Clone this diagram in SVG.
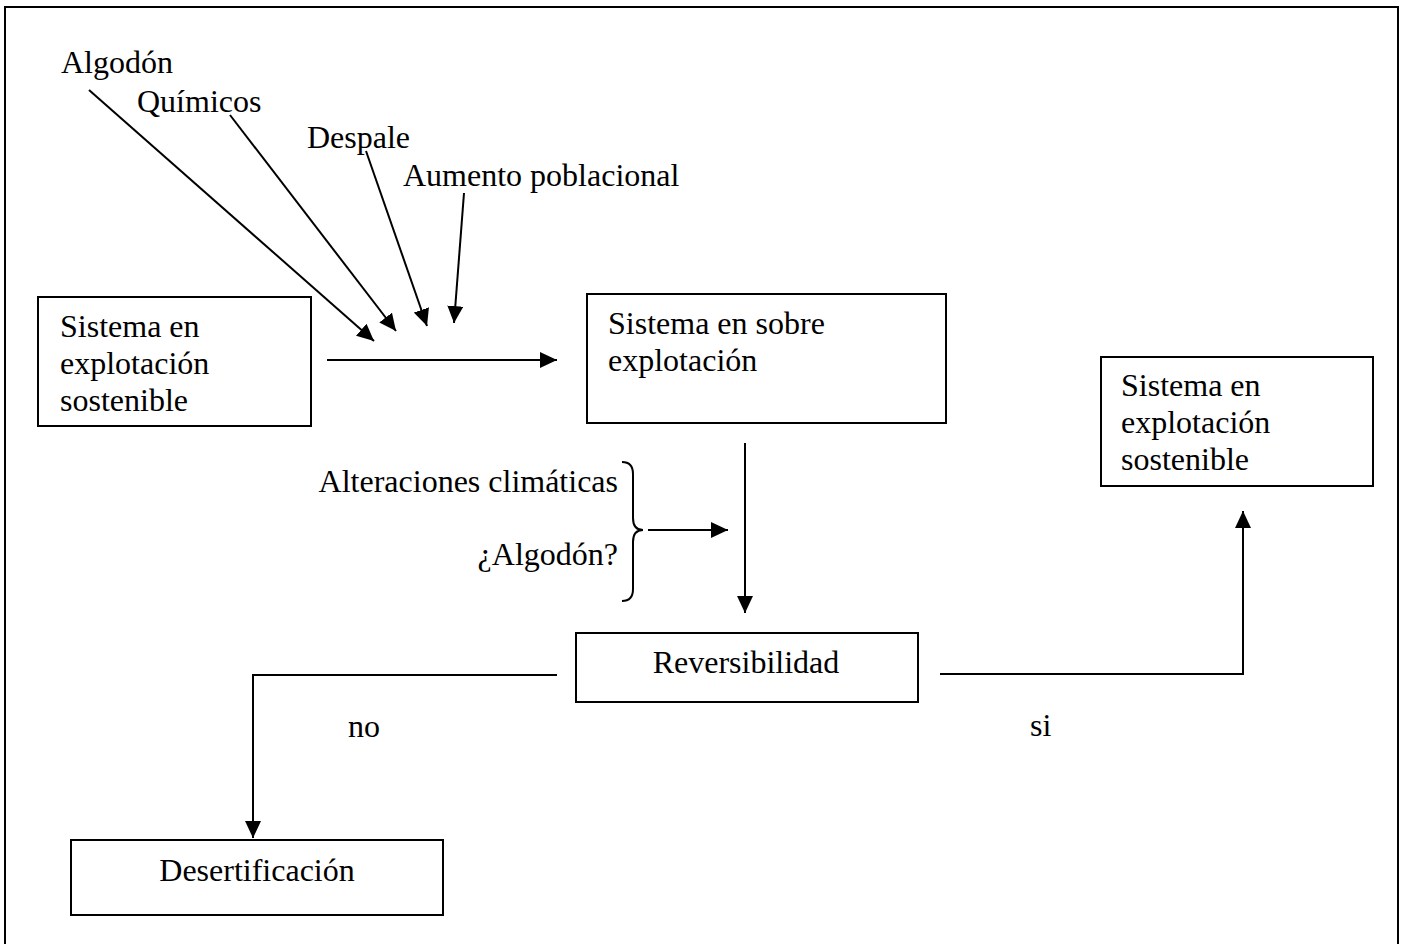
<svg xmlns="http://www.w3.org/2000/svg" width="1405" height="944" viewBox="0 0 1405 944">
<style>
text{font-family:"Liberation Serif","Times New Roman",serif;font-size:32px;fill:#000}
.box{fill:#fff;stroke:#000;stroke-width:2}
.ln{fill:none;stroke:#000;stroke-width:2}
.ar{fill:none;stroke:#000;stroke-width:2;marker-end:url(#ah)}
</style>
<defs>
<marker id="ah" markerUnits="userSpaceOnUse" markerWidth="18" markerHeight="16" viewBox="0 0 18 16" refX="17" refY="8" orient="auto">
<path d="M0,0 L17,8 L0,16 Z" fill="#000"/>
</marker>
</defs>
<rect x="5" y="7" width="1393" height="950" fill="none" stroke="#000" stroke-width="2"/>

<g id="factors">
<text x="61" y="73">Algodón</text>
<text x="137" y="112">Químicos</text>
<text x="307" y="148">Despale</text>
<text x="403" y="186">Aumento poblacional</text>
</g>

<g id="n-sostenible1">
<rect class="box" x="38" y="297" width="273" height="129"/>
<text x="60" y="337">Sistema en</text>
<text x="60" y="374">explotación</text>
<text x="60" y="411">sostenible</text>
</g>

<g id="n-sobre">
<rect class="box" x="587" y="294" width="359" height="129"/>
<text x="608" y="334">Sistema en sobre</text>
<text x="608" y="371">explotación</text>
</g>

<g id="n-sostenible2">
<rect class="box" x="1101" y="357" width="272" height="129"/>
<text x="1121" y="396">Sistema en</text>
<text x="1121" y="433">explotación</text>
<text x="1121" y="470">sostenible</text>
</g>

<g id="climate">
<text x="618" y="492" text-anchor="end">Alteraciones climáticas</text>
<text x="618" y="565" text-anchor="end">¿Algodón?</text>
<path class="ln" d="M622,462 Q633,462 633,474 L633,518 Q633,530 643,530 Q633,530 633,542 L633,589 Q633,601 622,601"/>
</g>

<g id="n-reversibilidad">
<rect class="box" x="576" y="633" width="342" height="69"/>
<text x="746" y="673" text-anchor="middle">Reversibilidad</text>
</g>

<g id="n-desertificacion">
<rect class="box" x="71" y="840" width="372" height="75"/>
<text x="257" y="881" text-anchor="middle">Desertificación</text>
</g>

<g id="labels">
<text x="348" y="737">no</text>
<text x="1030" y="736">si</text>
</g>

<g id="connectors">
<line class="ar" x1="89" y1="90" x2="374" y2="341"/>
<line class="ar" x1="230" y1="115" x2="396" y2="331"/>
<line class="ar" x1="366" y1="151" x2="427" y2="326"/>
<line class="ar" x1="464" y1="193" x2="454" y2="323"/>
<line class="ar" x1="327" y1="360" x2="557" y2="360"/>
<line class="ar" x1="648" y1="530" x2="728" y2="530"/>
<line class="ar" x1="745" y1="443" x2="745" y2="613"/>
<polyline class="ar" points="557,675 253,675 253,838"/>
<polyline class="ar" points="940,674 1243,674 1243,511"/>
</g>
</svg>
